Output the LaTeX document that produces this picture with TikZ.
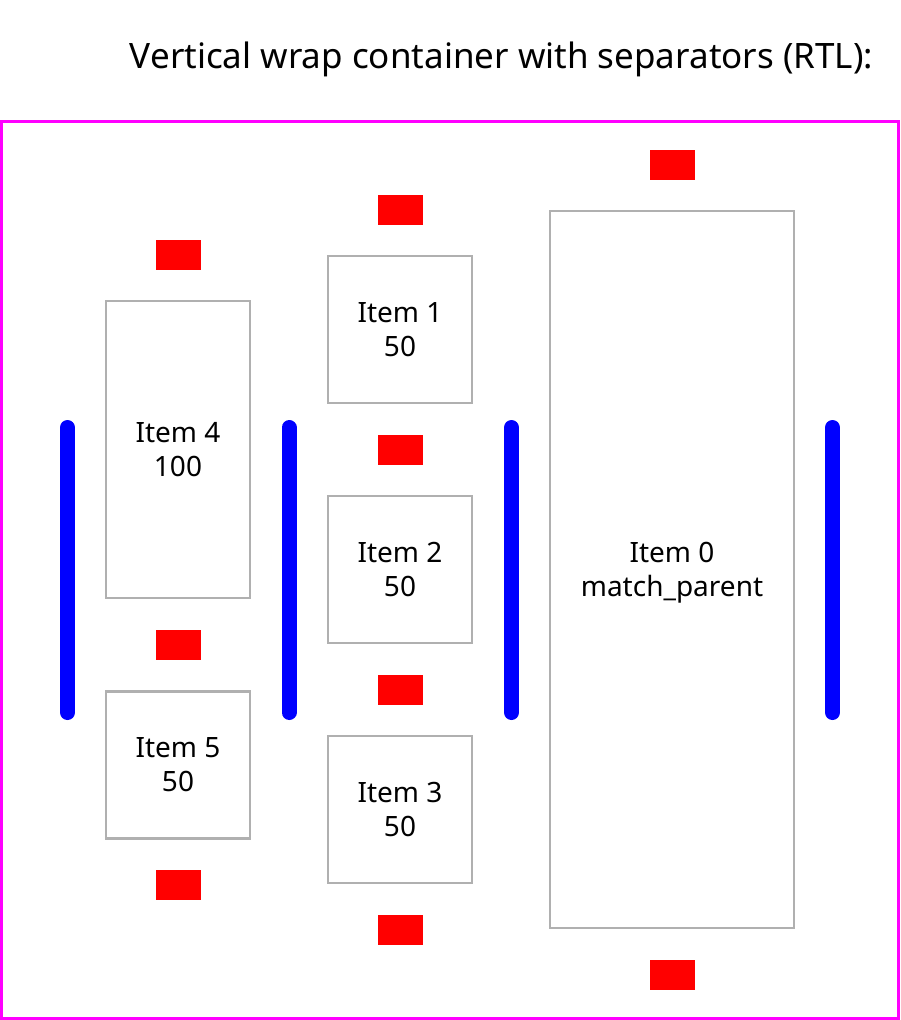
\documentclass[tikz,border=0pt]{standalone}
\usepackage{fontspec}
\setmainfont{Noto Sans}
\usetikzlibrary{positioning}
\definecolor{framemag}{HTML}{FF00FF}
\definecolor{itemgray}{HTML}{B0B0B0}
\definecolor{sepred}{HTML}{FF0000}
\definecolor{barblue}{HTML}{0000FF}

\begin{document}
\begin{tikzpicture}[
    x=1pt,
    y=-1pt,
    item/.style={draw=itemgray, line width=2.7pt, inner sep=0pt, outer sep=0pt,
      minimum width=144pt, align=center, font=\fontsize{28}{34}\selectfont},
    sepbox/.style={fill=sepred, inner sep=0pt, outer sep=0pt,
      minimum width=45pt, minimum height=30pt},
    colbar/.style={barblue, line width=15pt, line cap=round},
  ]
  \useasboundingbox (0,0) rectangle (900,1020);

  % === Title ===
  \node[anchor=base, font=\fontsize{35}{42}\selectfont] (title) at (501.5,68)
    {Vertical wrap container with separators (RTL):};

  % === Container frame ===
  \draw[framemag, line width=3pt] (1.5,121.5) rectangle (898.5,1018.5);

  % === Items, right to left ===
  \node[item, minimum width=244pt, minimum height=717pt] (item0) at (672,569.5)
    {Item 0\\\smash{match\_parent}};
  \node[item, minimum height=147pt] (item1) at (400,329.5) {Item 1\\50};
  \node[item, minimum height=147pt] (item2) at (400,569.5) {Item 2\\50};
  \node[item, minimum height=147pt] (item3) at (400,809.5) {Item 3\\50};
  \node[item, minimum height=297pt] (item4) at (178,449.5) {Item 4\\100};
  \node[item, minimum height=147pt] (item5) at (178,765) {Item 5\\50};

  % === Separators between items ===
  \foreach \y [count=\i] in {165, 975} { \node[sepbox] (sepC\i) at (672.5,\y) {}; }
  \foreach \y [count=\i] in {210, 450, 690, 930} { \node[sepbox] (sepB\i) at (400.5,\y) {}; }
  \foreach \y [count=\i] in {255, 645, 885} { \node[sepbox] (sepA\i) at (178.5,\y) {}; }

  % === Separators between columns ===
  \foreach \x in {67.5, 289, 511.5, 832.5} {
    \draw[colbar] (\x,427.5) -- (\x,712.5);
  }

\end{tikzpicture}
\end{document}
